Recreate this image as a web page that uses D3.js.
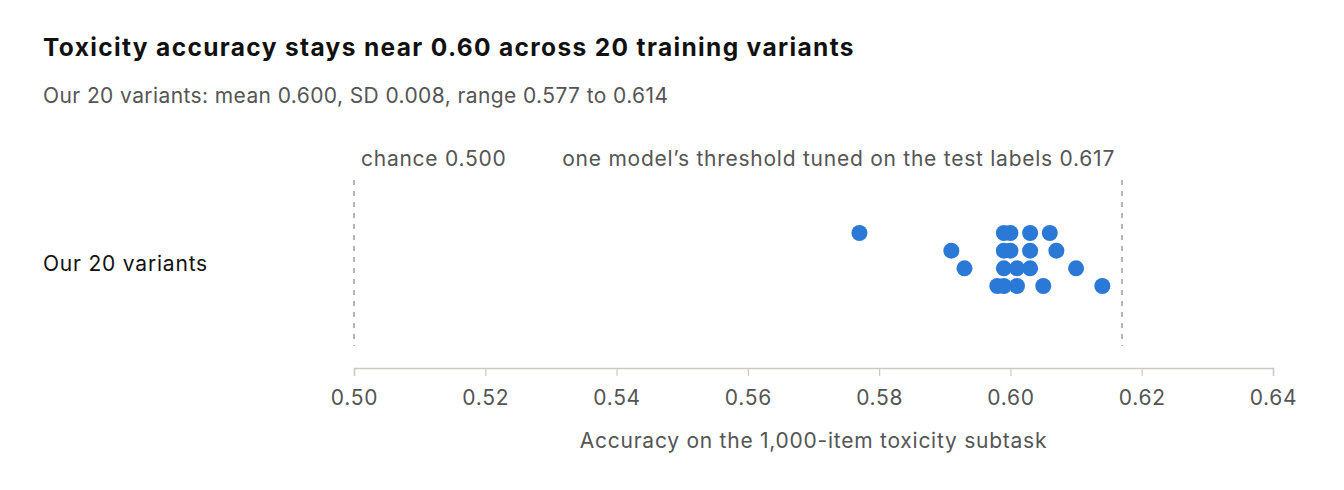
<!DOCTYPE html>
<html>
<head>
<meta charset="utf-8">
<script src="https://cdn.jsdelivr.net/npm/d3@7"></script>
<style>
  body { margin: 0; background: #fff; font-family: Inter, "Noto Sans", sans-serif; }
</style>
</head>
<body>
<svg id="chart"></svg>
<script>
// accuracy of each of the 20 training variants
const accuracy = [0.577, 0.599, 0.600, 0.603, 0.606,
                  0.591, 0.599, 0.600, 0.603, 0.607,
                  0.593, 0.599, 0.601, 0.603, 0.610,
                  0.598, 0.599, 0.601, 0.605, 0.614];
// jitter lane for each dot (0 = top)
const lane = [0, 0, 0, 0, 0,
              1, 1, 1, 1, 1,
              2, 2, 2, 2, 2,
              3, 3, 3, 3, 3];
const xTicks = [0.50, 0.52, 0.54, 0.56, 0.58, 0.60, 0.62, 0.64];
const refValues = [0.500, 0.617];
const refLabels = ['chance 0.500', 'one model\u2019s threshold tuned on the test labels 0.617'];
const rowLabel = 'Our 20 variants';

const W = 1344, H = 490;
const svg = d3.select('#chart').attr('width', W).attr('height', H);

const x = d3.scaleLinear().domain([0.50, 0.64]).range([354, 1273]);
const yLane = d3.scalePoint().domain([0, 1, 2, 3]).range([233, 286]);

svg.append('text')
  .attr('x', 43).attr('y', 56)
  .attr('font-size', 24.5).attr('font-weight', 700).attr('fill', '#111')
  .attr('letter-spacing', 1.35)
  .text('Toxicity accuracy stays near 0.60 across 20 training variants');

svg.append('text')
  .attr('x', 43).attr('y', 103)
  .attr('font-size', 21).attr('fill', '#555')
  .attr('letter-spacing', 0.4)
  .text('Our 20 variants: mean 0.600, SD 0.008, range 0.577 to 0.614');

svg.append('text')
  .attr('x', 43).attr('y', 271)
  .attr('font-size', 21).attr('fill', '#111')
  .attr('letter-spacing', 0.8)
  .text(rowLabel);

// reference lines
svg.selectAll('.ref').data(refValues).enter().append('line')
  .attr('class', 'ref')
  .attr('x1', d => x(d)).attr('x2', d => x(d))
  .attr('y1', 180).attr('y2', 346)
  .attr('stroke', '#8f8f8f').attr('stroke-width', 1.3)
  .attr('stroke-dasharray', '5,6');

svg.selectAll('.ref-label').data(refValues).enter().append('text')
  .attr('class', 'ref-label')
  .attr('x', (d, i) => i === 0 ? x(d) + 7 : x(d) - 7)
  .attr('y', 166)
  .attr('text-anchor', (d, i) => i === 0 ? 'start' : 'end')
  .attr('font-size', 21).attr('fill', '#555')
  .attr('letter-spacing', 0.75)
  .text((d, i) => refLabels[i]);

// x axis
const axis = svg.append('g')
  .attr('transform', 'translate(0,368)')
  .call(d3.axisBottom(x).tickValues(xTicks).tickFormat(d3.format('.2f')).tickSize(8).tickPadding(14));
axis.select('.domain').attr('stroke', '#cdc9be').attr('stroke-width', 1.5);
axis.selectAll('.tick line').attr('stroke', '#cdc9be').attr('stroke-width', 1.2);
axis.selectAll('.tick text').attr('font-size', 21).attr('font-family', 'Inter, sans-serif')
  .attr('letter-spacing', 0.7).attr('fill', '#555');

svg.append('text')
  .attr('x', x(0.57)).attr('y', 448)
  .attr('text-anchor', 'middle')
  .attr('font-size', 21).attr('fill', '#555')
  .attr('letter-spacing', 0.75)
  .text('Accuracy on the 1,000-item toxicity subtask');

// dots
svg.selectAll('.dot').data(accuracy).enter().append('circle')
  .attr('class', 'dot')
  .attr('cx', d => x(d))
  .attr('cy', (d, i) => yLane(lane[i]))
  .attr('r', 8)
  .attr('fill', '#2b79d7');
</script>
</body>
</html>
